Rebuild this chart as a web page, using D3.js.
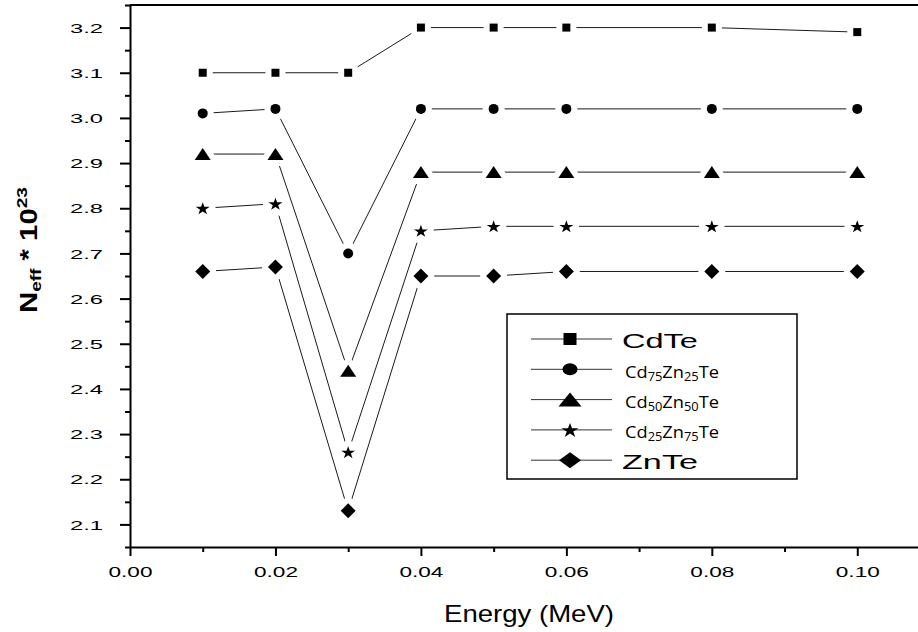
<!DOCTYPE html>
<html>
<head>
<meta charset="utf-8">
<script src="https://cdn.jsdelivr.net/npm/d3@7"></script>
<style>
body { margin: 0; background: #fff; }
text { font-family: "Liberation Sans", Arial, sans-serif; fill: #000; }
</style>
</head>
<body>
<svg id="chart" width="918" height="632"></svg>
<script>
// data
var energy = [0.01, 0.02, 0.03, 0.04, 0.05, 0.06, 0.08, 0.10];
var cdte   = [3.10, 3.10, 3.10, 3.20, 3.20, 3.20, 3.20, 3.19];
var cd75   = [3.01, 3.02, 2.70, 3.02, 3.02, 3.02, 3.02, 3.02];
var cd50   = [2.92, 2.92, 2.44, 2.88, 2.88, 2.88, 2.88, 2.88];
var cd25   = [2.80, 2.81, 2.26, 2.75, 2.76, 2.76, 2.76, 2.76];
var znte   = [2.66, 2.67, 2.13, 2.65, 2.65, 2.66, 2.66, 2.66];

var xTicks = [0.00, 0.02, 0.04, 0.06, 0.08, 0.10];
var yTicks = [2.1, 2.2, 2.3, 2.4, 2.5, 2.6, 2.7, 2.8, 2.9, 3.0, 3.1, 3.2];

// label parts: even index = normal text, odd index = subscript
var series = [
    {parts: ["CdTe"], values: cdte, shape: "square"},
    {parts: ["Cd", "75", "Zn", "25", "Te"], values: cd75, shape: "circle"},
    {parts: ["Cd", "50", "Zn", "50", "Te"], values: cd50, shape: "triangle"},
    {parts: ["Cd", "25", "Zn", "75", "Te"], values: cd25, shape: "star"},
    {parts: ["ZnTe"], values: znte, shape: "diamond"}
];

// marker sizes [w, h] in plot and in legend
var plotSize = {square: [8, 8], circle: [10, 10], triangle: [16, 12], star: [14, 12], diamond: [15, 15]};
var legSize  = {square: [13, 12], circle: [15, 12], triangle: [23, 14], star: [17, 14], diamond: [22, 16]};

function shapePath(kind, w, h) {
    var a = w / 2, b = h / 2;
    if (kind == "square") return "M" + (-a) + "," + (-b) + "H" + a + "V" + b + "H" + (-a) + "Z";
    if (kind == "circle") return "M" + (-a) + ",0A" + a + "," + b + " 0 1,0 " + a + ",0A" + a + "," + b + " 0 1,0 " + (-a) + ",0Z";
    if (kind == "triangle") return "M0," + (-b) + "L" + a + "," + b + "L" + (-a) + "," + b + "Z";
    if (kind == "diamond") return "M0," + (-b) + "L" + a + ",0L0," + b + "L" + (-a) + ",0Z";
    // star
    var pts = [];
    for (var i = 0; i < 10; i++) {
        var r = i % 2 ? 0.382 : 1, ang = -Math.PI / 2 + i * Math.PI / 5;
        pts.push([r * Math.cos(ang), r * Math.sin(ang)]);
    }
    var sx = a / 0.951, sy = h / 1.809, oy = (1 - 0.809) / 2;
    return "M" + pts.map(function(p) { return [p[0] * sx, (p[1] + oy) * sy].join(","); }).join("L") + "Z";
}

var svg = d3.select("#chart");

var x = d3.scaleLinear().domain([0, 0.11]).range([130, 930]);
var y = d3.scaleLinear().domain([2.05, 3.25]).range([547, 5]);

// lines first, markers (with white halo making the gaps) on top
var line = d3.line()
    .x(function(d, i) { return x(energy[i]); })
    .y(function(d) { return y(d); });

svg.append("g").selectAll("path").data(series).enter().append("path")
    .attr("d", function(s) { return line(s.values); })
    .attr("fill", "none")
    .attr("stroke", "#1a1a1a")
    .attr("stroke-width", 1);

series.forEach(function(s) {
    var sz = plotSize[s.shape];
    svg.append("g").selectAll("path").data(s.values).enter().append("path")
        .attr("transform", function(d, i) { return "translate(" + x(energy[i]) + "," + y(d) + ")"; })
        .attr("d", shapePath(s.shape, sz[0], sz[1]))
        .attr("fill", "#000")
        .attr("stroke", "#fff")
        .attr("stroke-width", 12)
        .attr("stroke-linejoin", "round")
        .attr("paint-order", "stroke");
});

// axes
var xAxis = svg.append("g").attr("transform", "translate(0," + y.range()[0] + ")")
    .call(d3.axisBottom(x).tickValues(xTicks).tickSize(9).tickSizeOuter(0).tickFormat(d3.format(".2f")));
svg.append("g").attr("transform", "translate(0," + y.range()[0] + ")")
    .call(d3.axisBottom(x).tickValues(d3.range(0.01, 0.11, 0.02)).tickSize(5).tickFormat(""))
    .select(".domain").remove();

var yAxis = svg.append("g").attr("transform", "translate(" + x(0) + ",0)")
    .call(d3.axisLeft(y).tickValues(yTicks).tickSize(10).tickSizeOuter(0).tickFormat(d3.format(".1f")));
svg.append("g").attr("transform", "translate(" + x(0) + ",0)")
    .call(d3.axisLeft(y).tickValues(d3.range(2.05, 3.26, 0.1)).tickSize(5).tickFormat(""))
    .select(".domain").remove();

svg.selectAll(".domain, .tick line").attr("stroke", "#000").attr("stroke-width", 2);

xAxis.selectAll(".tick text")
    .attr("y", 30).attr("dy", 0)
    .attr("font-size", 14)
    .attr("textLength", 44).attr("lengthAdjust", "spacingAndGlyphs")
    .style("font-family", "'Liberation Sans', Arial, sans-serif");

yAxis.selectAll(".tick text")
    .attr("x", -27).attr("dy", "0.36em")
    .attr("font-size", 13)
    .attr("textLength", 33).attr("lengthAdjust", "spacingAndGlyphs")
    .style("font-family", "'Liberation Sans', Arial, sans-serif");

// top frame line
svg.append("line")
    .attr("x1", x(0)).attr("x2", 918)
    .attr("y1", y.range()[1]).attr("y2", y.range()[1])
    .attr("stroke", "#000").attr("stroke-width", 2);

// axis titles
svg.append("text")
    .attr("x", 529).attr("y", 622)
    .attr("text-anchor", "middle")
    .attr("font-size", 24)
    .attr("textLength", 170).attr("lengthAdjust", "spacingAndGlyphs")
    .text("Energy (MeV)");

// stretch a group horizontally so its text fills width w
function fitWidth(g, w) {
    var bb = g.node().getBBox();
    g.attr("transform", g.attr("transform") + " scale(" + (w / bb.width) + ",1)");
}

var yl = svg.append("g").attr("transform", "translate(37,313) rotate(-90)");
var yt = yl.append("text").attr("font-weight", "bold");
yt.append("tspan").attr("font-size", 23).text("N");
yt.append("tspan").attr("font-size", 15).attr("dy", 4).text("eff");
yt.append("tspan").attr("font-size", 23).attr("dy", -4).text(" * 10");
yt.append("tspan").attr("font-size", 15).attr("dy", -10).text("23");
fitWidth(yl, 126);

// legend
var leg = svg.append("g");
leg.append("rect")
    .attr("x", 507).attr("y", 314).attr("width", 290).attr("height", 165)
    .attr("fill", "#fff").attr("stroke", "#000").attr("stroke-width", 1.5);

series.forEach(function(s, i) {
    var ry = 339 + i * 30.3;
    var sz = legSize[s.shape];
    leg.append("line")
        .attr("x1", 531).attr("x2", 612).attr("y1", ry).attr("y2", ry)
        .attr("stroke", "#333").attr("stroke-width", 1);
    leg.append("path")
        .attr("transform", "translate(570," + ry + ")")
        .attr("d", shapePath(s.shape, sz[0], sz[1]))
        .attr("fill", "#000");

    var plain = s.parts.length == 1;
    var g = leg.append("g").attr("transform", "translate(" + (plain ? 622 : 625) + "," + (ry + 8.5) + ")");
    var t = g.append("text");
    if (plain) {
        t.attr("font-size", 21).text(s.parts[0]);
        fitWidth(g, 76);
    } else {
        t.style("font-family", "'Open Sans', 'Noto Sans', sans-serif");
        s.parts.forEach(function(p, k) {
            var ts = t.append("tspan").text(p);
            if (k % 2) ts.attr("font-size", 12).attr("dy", 3);
            else ts.attr("font-size", 17).attr("dy", k ? -3 : 0);
        });
        fitWidth(g, 94);
    }
});
</script>
</body>
</html>
